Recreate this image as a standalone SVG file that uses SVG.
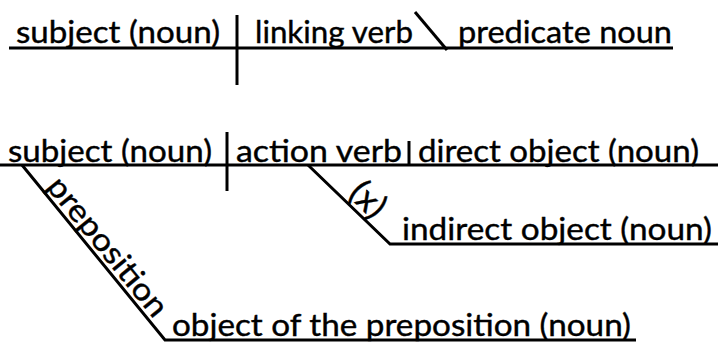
<svg xmlns="http://www.w3.org/2000/svg" width="718" height="343" viewBox="0 0 718 343">
<style>
.t{font-family:Lato,"Open Sans","Liberation Sans",sans-serif;font-size:31px;fill:#000;stroke:#000;stroke-width:0.4}
.l{stroke:#000;stroke-width:3;fill:none;stroke-linecap:butt}
</style>
<rect width="718" height="343" fill="#fff"/>
<g id="connectors">
<line class="l" x1="9" y1="48" x2="673" y2="48"/>
<line class="l" x1="237" y1="15" x2="237" y2="85"/>
<line class="l" x1="415" y1="12" x2="447" y2="50"/>
<line class="l" x1="0" y1="165" x2="718" y2="165"/>
<line class="l" x1="227" y1="132" x2="227" y2="191"/>
<line class="l" x1="409" y1="141" x2="409" y2="165"/>
<polyline class="l" points="308,165 390,244 718,244"/>
<polyline class="l" points="22,165 165,340 636,340"/>
</g>
<g id="n-subject1"><text class="t" x="16" y="43" textLength="204" lengthAdjust="spacingAndGlyphs">subject (noun)</text></g>
<g id="n-linking"><text class="t" x="255" y="43" textLength="158" lengthAdjust="spacingAndGlyphs">linking verb</text></g>
<g id="n-predicate"><text class="t" x="458" y="43" textLength="214" lengthAdjust="spacingAndGlyphs">predicate noun</text></g>
<g id="n-subject2"><text class="t" x="8" y="162" textLength="204" lengthAdjust="spacingAndGlyphs">subject (noun)</text></g>
<g id="n-action"><text class="t" x="236" y="162" textLength="166" lengthAdjust="spacingAndGlyphs">action verb</text></g>
<g id="n-direct"><text class="t" x="418" y="162" textLength="281" lengthAdjust="spacingAndGlyphs">direct object (noun)</text></g>
<g id="n-x"><text class="t" text-anchor="middle" transform="translate(360,208) rotate(44)" style="font-size:35px">(x)</text></g>
<g id="n-indirect"><text class="t" x="402" y="240" textLength="310" lengthAdjust="spacingAndGlyphs">indirect object (noun)</text></g>
<g id="n-preposition"><text class="t" transform="translate(45.5,187) rotate(50.7)" textLength="171" lengthAdjust="spacingAndGlyphs">preposition</text></g>
<g id="n-object"><text class="t" x="172" y="336" textLength="459" lengthAdjust="spacingAndGlyphs">object of the preposition (noun)</text></g>
</svg>
